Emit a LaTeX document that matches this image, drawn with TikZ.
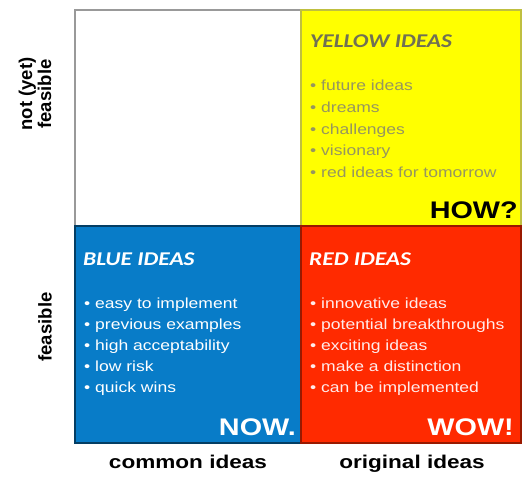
\documentclass[tikz,border=0pt]{standalone}
\usepackage{fontspec}
\setmainfont{Liberation Sans}
\newfontfamily\headfont{Carlito}
\definecolor{quadB}{RGB}{8,124,200}
\definecolor{quadR}{RGB}{255,42,0}
\definecolor{quadY}{RGB}{255,255,0}
\definecolor{txtY}{RGB}{150,150,95}
\definecolor{headY}{RGB}{112,112,84}
\tikzset{
  itemtxt/.style={anchor=base west, inner sep=0pt, xscale=1.2, font=\fontsize{14.6}{18}\selectfont},
  headtxt/.style={anchor=base west, inner sep=0pt, xscale=1.2, font=\headfont\bfseries\itshape\fontsize{19.5}{22}\selectfont},
  tagtxt/.style={anchor=base east, inner sep=0pt, xscale=1.2, font=\bfseries\fontsize{24}{28}\selectfont},
  axistxt/.style={inner sep=0pt, font=\bfseries\fontsize{18.5}{19}\selectfont}}

\begin{document}
\begin{tikzpicture}[x=1pt, y=-1pt]
\useasboundingbox (0,0) rectangle (524,476);
% quadrants
\filldraw[fill=white, draw=gray!80, line width=1.2pt] (75,10) rectangle (301,226);
\filldraw[fill=quadY, draw=quadY!50!gray, line width=1.2pt] (301,10) rectangle (521,226);
\filldraw[fill=quadB, draw=quadB!50!black, line width=1.2pt] (75,226) rectangle (301,443);
\filldraw[fill=quadR, draw=quadR!60!black, line width=1.2pt] (301,226) rectangle (521,443);
% yellow quadrant
\node[headtxt, text=headY] (yhead) at (310,48) {YELLOW IDEAS};
\foreach \txt [count=\i] in {future ideas, dreams, challenges, visionary, red ideas for tomorrow}
  \node[itemtxt, text=txtY] (yitem\i) at (310,{91+21.5*(\i-1)}) {•\ \txt};
\node[tagtxt, text=black] (how) at (518,218) {HOW?};
% blue quadrant
\node[headtxt, text=white] (bhead) at (83,265) {BLUE IDEAS};
\foreach \txt [count=\i] in {easy to implement, previous examples, high acceptability, low risk, quick wins}
  \node[itemtxt, text=white] (bitem\i) at (84,{308+21*(\i-1)}) {•\ \txt};
\node[tagtxt, text=white] (now) at (296,435) {NOW.};
% red quadrant
\node[headtxt, text=white] (rhead) at (309,265) {RED IDEAS};
\foreach \txt [count=\i] in {innovative ideas, potential breakthroughs, exciting ideas, make a distinction, can be implemented}
  \node[itemtxt, text=white!92!red] (ritem\i) at (310,{308+21*(\i-1)}) {•\ \txt};
\node[tagtxt, text=white] (wow) at (514,435) {WOW!};
% axis labels
\node[axistxt, rotate=90, align=center] (notfeas) at (35,94) {not (yet)\\feasible};
\node[axistxt, rotate=90] (feas) at (45,327) {feasible};
\node[axistxt, xscale=1.22, anchor=base] (common) at (188,468) {common ideas};
\node[axistxt, xscale=1.22, anchor=base] (original) at (412,468) {original ideas};
\end{tikzpicture}
\end{document}
